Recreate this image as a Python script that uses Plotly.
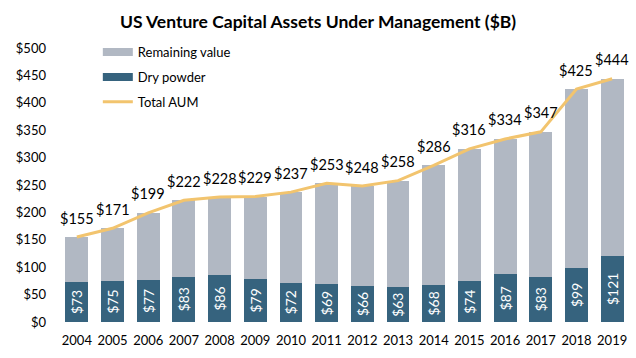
import plotly.graph_objects as go

years = [str(y) for y in range(2004, 2020)]
total_aum = [155, 171, 199, 222, 228, 229, 237, 253, 248, 258, 286, 316, 334, 347, 425, 444]
dry_powder = [73, 75, 77, 83, 86, 79, 72, 69, 66, 63, 68, 74, 87, 83, 99, 121]
remaining = [t - d for t, d in zip(total_aum, dry_powder)]
y_ticks = list(range(0, 501, 50))
y_tick_labels = [f"${v}" for v in y_ticks]

FONT = "Lato, 'Open Sans', sans-serif"
C_DRY = "#36637E"
C_REM = "#B1B8C3"
C_TOT = "#F2C46E"

fig = go.Figure()
fig.add_trace(go.Bar(
    x=years, y=dry_powder, name="Dry powder",
    marker=dict(color=C_DRY, line=dict(width=0)),
    text=[f"${v}" for v in dry_powder], textposition="inside",
    textangle=-90, insidetextanchor="middle",
    textfont=dict(color="white", size=14, family=FONT),
    showlegend=False, hoverinfo="skip",
))
fig.add_trace(go.Bar(
    x=years, y=remaining, name="Remaining value",
    marker=dict(color=C_REM, line=dict(width=0)),
    showlegend=False, hoverinfo="skip",
))
fig.add_trace(go.Scatter(
    x=years, y=total_aum, name="Total AUM", mode="lines",
    line=dict(color=C_TOT, width=3),
    showlegend=False, hoverinfo="skip",
))
# legend swatches (Excel-style wide rectangles)
for name, color, w, rank in [("Remaining value", C_REM, 8, 1),
                             ("Dry powder", C_DRY, 8, 2),
                             ("Total AUM", C_TOT, 3, 3)]:
    fig.add_trace(go.Scatter(
        x=[None], y=[None], mode="lines", name=name,
        line=dict(color=color, width=w), legendrank=rank,
        legendgroup=name, showlegend=True, hoverinfo="skip",
    ))

for i, v in enumerate(total_aum):
    fig.add_annotation(x=i, y=v, xref="x", yref="y", text=f"${v}", showarrow=False,
                       yshift=19, font=dict(size=14.5, family=FONT, color="black"))

fig.update_layout(
    width=636, height=358,
    margin=dict(l=59, r=6, t=48, b=36),
    barmode="stack", bargap=0.36,
    plot_bgcolor="white", paper_bgcolor="white",
    font=dict(family=FONT, size=13, color="black"),
    title=dict(text="<b>US Venture Capital Assets Under Management ($B)</b>",
               x=0.5, xanchor="center", y=0.94, yanchor="middle",
               font=dict(size=17.5, family=FONT, color="black")),
    showlegend=True,
    legend=dict(x=0.068, y=1.04, xanchor="left", yanchor="top",
                traceorder="grouped", tracegroupgap=5,
                bgcolor="rgba(0,0,0,0)", font=dict(size=13, family=FONT),
                itemwidth=30),
    xaxis=dict(type="category", showgrid=False, showline=False, ticks="",
               tickfont=dict(size=13), range=[-0.5, 15.5], ticklabelstandoff=9),
    yaxis=dict(range=[0, 500], tickvals=y_ticks, ticktext=y_tick_labels,
               showgrid=False, zeroline=False, showline=False, ticks="",
               tickfont=dict(size=13), ticklabelstandoff=12),
)

fig.write_html("out.html", config={"displayModeBar": False},
               post_script="document.body.style.margin='0';")
